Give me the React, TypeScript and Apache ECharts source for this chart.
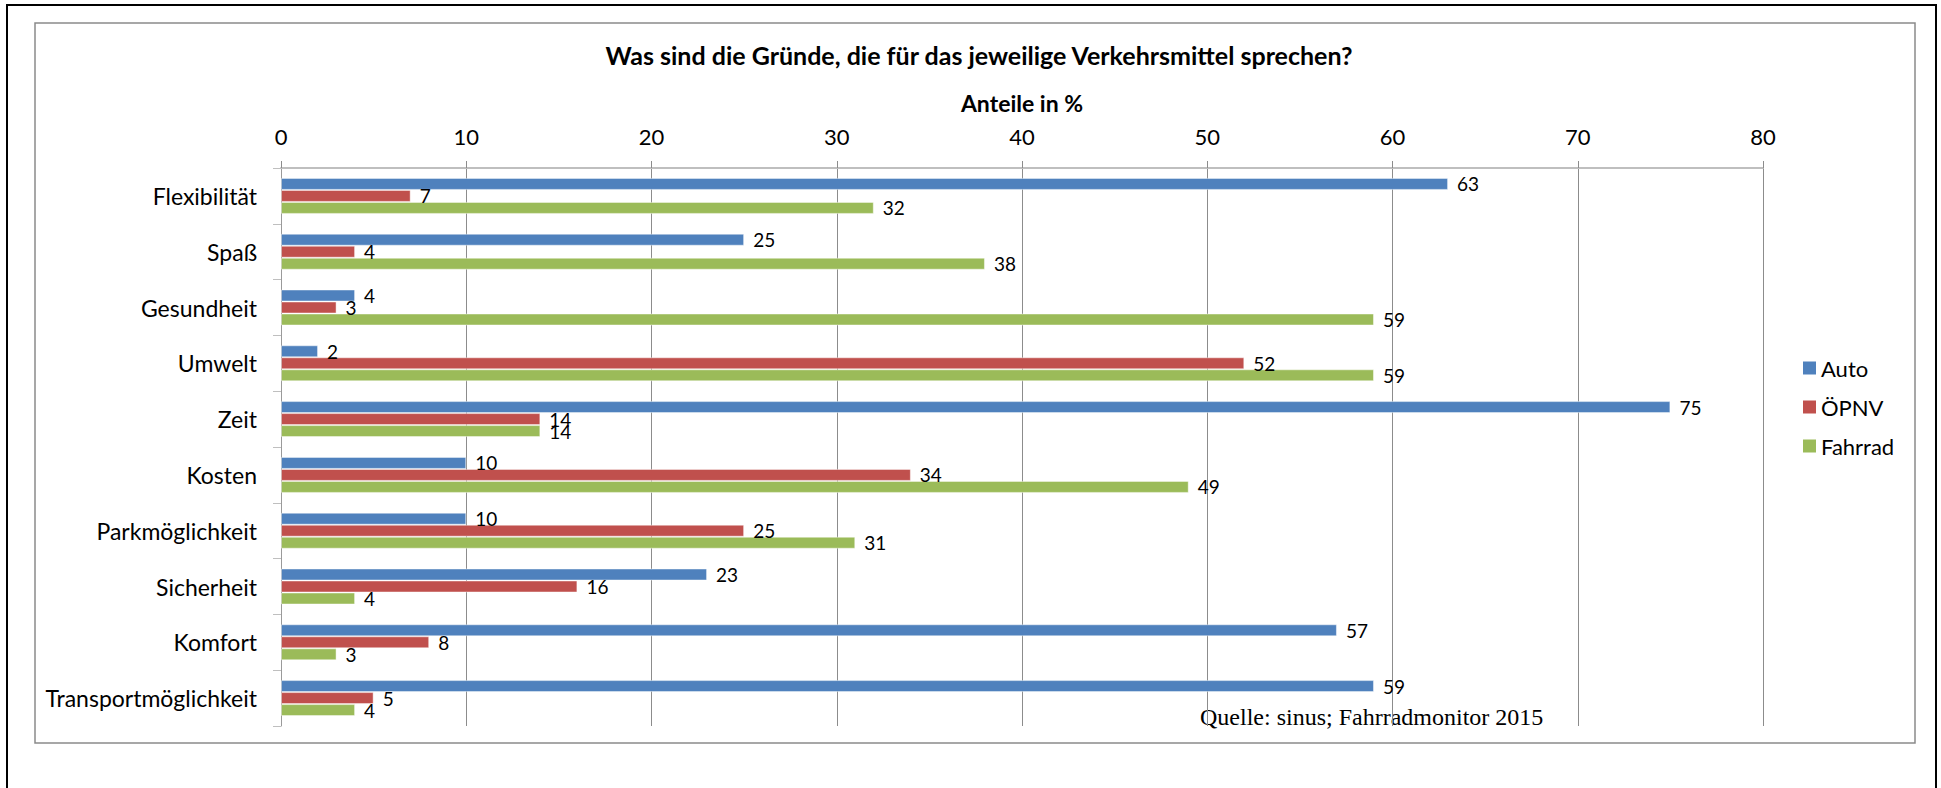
import React, { useEffect, useRef } from "react";
import * as echarts from "echarts";

const categories = [
  "Flexibilität",
  "Spaß",
  "Gesundheit",
  "Umwelt",
  "Zeit",
  "Kosten",
  "Parkmöglichkeit",
  "Sicherheit",
  "Komfort",
  "Transportmöglichkeit",
];
const autoValues = [63, 25, 4, 2, 75, 10, 10, 23, 57, 59];
const oepnvValues = [7, 4, 3, 52, 14, 34, 25, 16, 8, 5];
const fahrradValues = [32, 38, 59, 59, 14, 49, 31, 4, 3, 4];
const seriesNames = ["Auto", "ÖPNV", "Fahrrad"];
const seriesColors = ["#4F81BD", "#C0504D", "#9BBB59"];
const titleText = "Was sind die Gründe, die für das jeweilige Verkehrsmittel sprechen?";
const axisTitle = "Anteile in %";
const sourceText = "Quelle: sinus; Fahrradmonitor 2015";

const FONT = "Lato, 'Open Sans', sans-serif";

export default function App() {
  const ref = useRef<HTMLDivElement>(null);
  useEffect(() => {
    if (!ref.current) return;
    const chart = echarts.init(ref.current, undefined, { renderer: "svg" });
    const values = [autoValues, oepnvValues, fahrradValues];
    chart.setOption({
      animation: false,
      backgroundColor: "#ffffff",
      title: {
        text: titleText,
        left: 974,
        top: 37,
        textAlign: "center",
        textStyle: { fontFamily: FONT, fontSize: 25, fontWeight: "bold", color: "#000" },
      },
      legend: {
        orient: "vertical",
        left: 1803,
        top: 357,
        padding: 0,
        itemWidth: 13,
        itemHeight: 13,
        itemGap: 17,
        icon: "rect",
        data: seriesNames,
        textStyle: { fontFamily: FONT, fontSize: 22, lineHeight: 21, color: "#000", padding: [0, 0, 0, 0] },
        itemStyle: { borderWidth: 0 },
      },
      grid: { left: 281, top: 168, width: 1482, height: 558, containLabel: false },
      xAxis: {
        type: "value",
        position: "top",
        min: 0,
        max: 80,
        interval: 10,
        name: axisTitle,
        nameLocation: "middle",
        nameGap: 54,
        nameTextStyle: { fontFamily: FONT, fontSize: 23, fontWeight: "bold", color: "#000" },
        axisLine: { show: true, lineStyle: { color: "#bfbfbf", width: 2 } },
        axisTick: { show: true, inside: false, length: 7, lineStyle: { color: "#8c8c8c" } },
        axisLabel: { fontFamily: FONT, fontSize: 22, color: "#000", margin: 21 },
        splitLine: { show: true, lineStyle: { color: "#8c8c8c", width: 1 } },
      },
      yAxis: {
        type: "category",
        inverse: true,
        data: categories,
        axisLine: { show: true, lineStyle: { color: "#9a9a9a", width: 1 } },
        axisTick: { show: true, length: 8, lineStyle: { color: "#bfbfbf" } },
        axisLabel: { fontFamily: FONT, fontSize: 23, color: "#000", margin: 24 },
      },
      series: seriesNames.map((name, i) => ({
        name,
        type: "bar",
        data: values[i],
        barWidth: 12,
        barGap: "0%",
        itemStyle: { color: seriesColors[i], borderColor: "rgba(255,255,255,0.45)", borderWidth: 1 },
        label: {
          show: true,
          position: "right",
          distance: 9,
          fontFamily: FONT,
          fontSize: 19,
          color: "#000",
        },
      })),
      graphic: [
        {
          type: "polyline",
          shape: { points: [[7, 800], [7, 5], [1936, 5], [1936, 800]] },
          style: { stroke: "#000", lineWidth: 2, fill: null },
          silent: true,
        },
        {
          type: "rect",
          shape: { x: 35, y: 23, width: 1880, height: 720 },
          style: { stroke: "#8a8a8a", lineWidth: 1.5, fill: null },
          silent: true,
        },
        {
          type: "text",
          x: 1200,
          y: 717,
          style: {
            text: sourceText,
            fontFamily: "'Liberation Serif', 'Times New Roman', serif",
            fontSize: 24,
            fill: "#000",
            verticalAlign: "middle",
          },
          silent: true,
        },
      ],
    });
    return () => chart.dispose();
  }, []);
  return (
    <div
      ref={ref}
      style={{ position: "fixed", left: 0, top: 0, width: 1941, height: 788 }}
    />
  );
}
